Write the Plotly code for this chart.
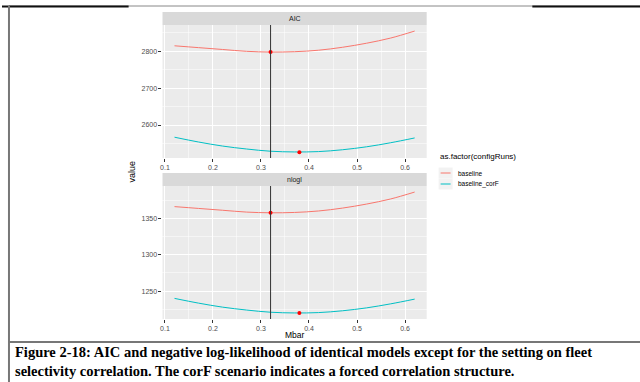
import plotly.graph_objects as go

# ---- data ----
mbar = [0.12, 0.17, 0.22, 0.27, 0.32, 0.37, 0.42, 0.47, 0.52, 0.57, 0.62]
aic_baseline = [2815, 2810, 2805, 2800, 2798, 2799, 2803, 2811, 2822, 2836, 2855]
aic_corF = [2567, 2554, 2543, 2535, 2529, 2527, 2528, 2533, 2541, 2552, 2565]
nlogl_baseline = [1366, 1363.5, 1361, 1358.5, 1357.5, 1358, 1360, 1364, 1369.5, 1376.5, 1386]
nlogl_corF = [1240, 1233.5, 1228, 1224, 1221, 1220, 1220.5, 1223, 1227, 1232.5, 1239]
series_names = ["baseline", "baseline_corF"]
series_colors = ["#F8766D", "#00BFC4"]
panel_names = ["AIC", "nlogl"]
vline_x = 0.32
best_x = [0.32, 0.38]
best_aic = [2798, 2526.5]
best_nlogl = [1357.5, 1220]
x_ticks = [0.1, 0.2, 0.3, 0.4, 0.5, 0.6]
aic_ticks = [2600, 2700, 2800]
nlogl_ticks = [1250, 1300, 1350]
caption = ("Figure 2-18: AIC and negative log-likelihood of identical models except for the setting on fleet<br>"
           "selectivity correlation. The corF scenario indicates a forced correlation structure.")

W, H = 640, 382
def px(x): return x / W
def py(y): return 1 - y / H

fig = go.Figure()

panels = [
    (aic_baseline, aic_corF, best_aic, "x", "y"),
    (nlogl_baseline, nlogl_corF, best_nlogl, "x2", "y2"),
]
for (b, c, best, xa, ya) in panels:
    for vals, name, col in zip([b, c], series_names, series_colors):
        fig.add_trace(go.Scatter(x=mbar, y=vals, mode="lines", name=name,
                                 line=dict(color=col, width=1, shape="spline"),
                                 xaxis=xa, yaxis=ya, showlegend=False))
    fig.add_trace(go.Scatter(x=best_x, y=best, mode="markers",
                             marker=dict(color="red", size=4, line=dict(width=0)),
                             xaxis=xa, yaxis=ya, showlegend=False))

# geometry
xl, xr = 161, 426
top_panel = (25, 158)
bot_panel = (186, 319)
strip_h = 13

def xaxis_cfg(anchor):
    return dict(domain=[px(xl), px(xr)], anchor=anchor, range=[0.095, 0.645],
                tickvals=x_ticks, ticktext=[f"{v:.1f}" for v in x_ticks],
                showgrid=True, gridcolor="white", gridwidth=1,
                minor=dict(tickvals=[0.15, 0.25, 0.35, 0.45, 0.55], showgrid=True,
                           gridcolor="white", gridwidth=0.5),
                ticks="outside", ticklen=2.5, tickcolor="#333333", tickwidth=1,
                ticklabelstandoff=0,
                tickfont=dict(size=7, color="#4D4D4D", family="Liberation Sans"),
                zeroline=False, showline=False, fixedrange=True)

def yaxis_cfg(anchor, dom, rng, ticks, minor):
    return dict(domain=dom, anchor=anchor, range=rng, tickvals=ticks,
                showgrid=True, gridcolor="white", gridwidth=1,
                minor=dict(tickvals=minor, showgrid=True, gridcolor="white", gridwidth=0.5),
                ticks="outside", ticklen=3, tickcolor="#333333", tickwidth=1,
                tickfont=dict(size=7, color="#4D4D4D", family="Liberation Sans"),
                zeroline=False, showline=False, fixedrange=True)

fig.update_layout(
    width=W, height=H, margin=dict(l=0, r=0, t=0, b=0),
    paper_bgcolor="white", plot_bgcolor="#EBEBEB",
    xaxis=xaxis_cfg("y"),
    yaxis=yaxis_cfg("x", [py(top_panel[1]), py(top_panel[0])], [2510.6, 2871.4],
                    aic_ticks, [2550, 2650, 2750, 2850]),
    xaxis2=xaxis_cfg("y2"),
    yaxis2=yaxis_cfg("x2", [py(bot_panel[1]), py(bot_panel[0])], [1211.7, 1394.3],
                     nlogl_ticks, [1225, 1275, 1325, 1375]),
    showlegend=False,
)

shapes = []
annotations = []

def ann(text, x, y, size, xanchor="center", **kw):
    d = dict(text=text, x=px(x), y=py(y), xref="paper", yref="paper", showarrow=False,
             xanchor=xanchor, yanchor="middle",
             font=dict(size=size, color=kw.pop("color", "black"),
                       family=kw.pop("family", "Liberation Sans"), **kw.pop("fkw", {})))
    d.update(kw)
    annotations.append(d)

# vertical reference lines
for xa, ya in [("x", "y"), ("x2", "y2")]:
    shapes.append(dict(type="line", xref=xa, yref=f"{ya} domain", x0=vline_x, x1=vline_x,
                       y0=0, y1=1, line=dict(color="#333333", width=1)))
# strips
for (ptop, _), name in zip([top_panel, bot_panel], panel_names):
    shapes.append(dict(type="rect", xref="paper", yref="paper", x0=px(xl), x1=px(xr),
                       y0=py(ptop), y1=py(ptop - strip_h), fillcolor="#D9D9D9",
                       line=dict(width=0), layer="below"))
    ann(name, (xl + xr) / 2, ptop - strip_h / 2, 7, color="#1A1A1A")
# axis titles
ann("value", 130, 172, 9, textangle=-90)
ann("Mbar", (xl + xr) / 2, 334.5, 8.5)
# legend
ann("as.factor(configRuns)", 437, 157, 8, xanchor="left")
for i, (name, col) in enumerate(zip(series_names, series_colors)):
    yc = 173 + 11 * i
    shapes.append(dict(type="rect", xref="paper", yref="paper", x0=px(438), x1=px(452),
                       y0=py(yc + 5.5), y1=py(yc - 5.5), fillcolor="#F2F2F2",
                       line=dict(width=0)))
    shapes.append(dict(type="line", xref="paper", yref="paper", x0=px(440), x1=px(450),
                       y0=py(yc), y1=py(yc), line=dict(color=col, width=1)))
    ann(name, 455, yc, 6.5, xanchor="left")
# frame lines
shapes.append(dict(type="line", xref="paper", yref="paper", x0=px(7), x1=1, y0=py(6), y1=py(6),
                   line=dict(color="#888888", width=1)))
shapes.append(dict(type="line", xref="paper", yref="paper", x0=0, x1=px(127), y0=py(6.5), y1=py(6.5),
                   line=dict(color="#111111", width=2)))
shapes.append(dict(type="line", xref="paper", yref="paper", x0=px(532), x1=1, y0=py(6.5), y1=py(6.5),
                   line=dict(color="#111111", width=2)))
shapes.append(dict(type="line", xref="paper", yref="paper", x0=px(7), x1=px(7), y0=0, y1=py(6),
                   line=dict(color="#777777", width=2)))
shapes.append(dict(type="line", xref="paper", yref="paper", x0=px(7), x1=1, y0=py(342), y1=py(342),
                   line=dict(color="#777777", width=2)))
# caption
ann(caption, 11, 361, 14.5, xanchor="left", align="left", family="Liberation Serif",
    fkw=dict(weight="bold"))

fig.update_layout(shapes=shapes, annotations=annotations)
fig.write_html("out.html", config={"displayModeBar": False, "staticPlot": True})

# remove default page margin so the figure sits at the window's top-left corner
with open("out.html", "r", encoding="utf-8") as f:
    html = f.read()
html = html.replace("<head>", "<head><style>html,body{margin:0;padding:0;overflow:hidden;}</style>", 1)
with open("out.html", "w", encoding="utf-8") as f:
    f.write(html)
